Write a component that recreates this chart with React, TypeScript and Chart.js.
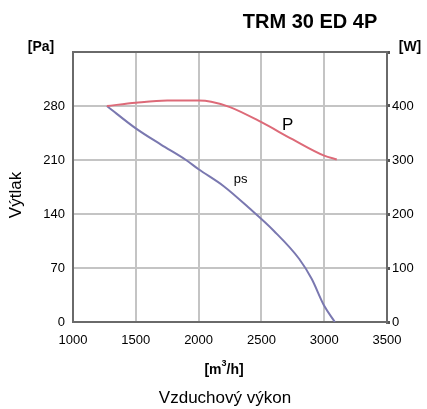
import React, { useEffect, useRef } from "react";
import { Chart, registerables } from "chart.js";

Chart.register(...registerables);

const flowPs = [1270, 1500, 1700, 1900, 2000, 2200, 2400, 2600, 2800, 2900, 3000, 3085];
const psValues = [280, 251, 230, 210, 198, 176, 148, 118, 82, 56, 21, 0];

const flowP = [1270, 1500, 1750, 2000, 2100, 2250, 2500, 2750, 3000, 3100];
const pValues = [400, 406, 410, 410, 408, 398, 370, 338, 308, 301];

const xTicks = [1000, 1500, 2000, 2500, 3000, 3500];
const leftTicks = [0, 70, 140, 210, 280, 350];
const rightTicks = [0, 100, 200, 300, 400, 500];

const FONT = "'Liberation Sans', Arial, sans-serif";

const textPlugin = {
  id: "texts",
  afterDraw(chart: any) {
    const c = chart.ctx;
    const xs = chart.scales.x;
    const ys = chart.scales.y;
    c.save();
    c.fillStyle = "#000";
    c.textBaseline = "middle";
    c.textAlign = "center";
    c.font = `bold 20px ${FONT}`;
    c.fillText("TRM 30 ED 4P", 310, 22);
    c.font = `bold 14px ${FONT}`;
    c.fillText("[Pa]", 41, 47);
    c.fillText("[W]", 410, 47);
    // m3/h
    const y0 = 370;
    const part1 = "[m";
    const part2 = "/h]";
    c.font = `bold 14px ${FONT}`;
    const w1 = c.measureText(part1).width;
    const w2 = c.measureText(part2).width;
    c.font = `bold 9px ${FONT}`;
    const w3 = c.measureText("3").width;
    const total = w1 + w2 + w3;
    const sx = 224 - total / 2;
    c.textAlign = "left";
    c.font = `bold 14px ${FONT}`;
    c.fillText(part1, sx, y0);
    c.font = `bold 9px ${FONT}`;
    c.fillText("3", sx + w1, y0 - 6);
    c.font = `bold 14px ${FONT}`;
    c.fillText(part2, sx + w1 + w3, y0);
    c.textAlign = "center";
    c.font = `17px ${FONT}`;
    c.fillText("Vzduchový výkon", 225, 398);
    c.save();
    c.translate(16, 195);
    c.rotate(-Math.PI / 2);
    c.font = `17px ${FONT}`;
    c.fillText("Výtlak", 0, 0);
    c.restore();
    c.font = `17px ${FONT}`;
    c.fillText("P", xs.getPixelForValue(2710), ys.getPixelForValue(255));
    c.font = `13px ${FONT}`;
    c.fillText("ps", xs.getPixelForValue(2335), ys.getPixelForValue(185));
    c.restore();
  },
};

export default function App() {
  const ref = useRef<HTMLCanvasElement>(null);
  useEffect(() => {
    if (!ref.current) return;
    const chart = new Chart(ref.current, {
      type: "line",
      data: {
        datasets: [
          {
            label: "P",
            data: flowP.map((x, i) => ({ x, y: pValues[i] })),
            yAxisID: "y2",
            borderColor: "#dd6a78",
            borderWidth: 2,
            pointRadius: 0,
            cubicInterpolationMode: "monotone",
          },
          {
            label: "ps",
            data: flowPs.map((x, i) => ({ x, y: psValues[i] })),
            yAxisID: "y",
            borderColor: "#7a78b0",
            borderWidth: 2,
            pointRadius: 0,
            cubicInterpolationMode: "monotone",
          },
        ],
      },
      options: {
        animation: false,
        responsive: false,
        maintainAspectRatio: false,
        layout: { padding: { top: 52, left: 0, right: 0, bottom: 0 } },
        plugins: { legend: { display: false }, tooltip: { enabled: false } },
        scales: {
          x: {
            type: "linear",
            min: 1000,
            max: 3500,
            afterBuildTicks: (s: any) => {
              s.ticks = xTicks.map((v) => ({ value: v }));
            },
            afterFit: (s: any) => {
              s.height = 87;
            },
            ticks: {
              font: { family: FONT, size: 13 },
              color: "#000",
              padding: 11,
              callback: (v: any) => String(v),
            },
            grid: { color: "#c4c4c4", lineWidth: 2, drawTicks: false },
            border: { color: "#6a6a6a", width: 2 },
          },
          y: {
            type: "linear",
            position: "left",
            min: 0,
            max: 350,
            afterBuildTicks: (s: any) => {
              s.ticks = leftTicks.map((v) => ({ value: v }));
            },
            afterFit: (s: any) => {
              s.width = 73;
            },
            ticks: {
              font: { family: FONT, size: 13 },
              color: "#000",
              padding: 8,
              callback: (v: any) => (v === 350 ? "" : String(v)),
            },
            grid: {
              color: (ctx: any) => (ctx.tick && ctx.tick.value === 350 ? "#6a6a6a" : "#c4c4c4"),
              lineWidth: 2,
              drawTicks: false,
            },
            border: { color: "#6a6a6a", width: 2 },
          },
          y2: {
            type: "linear",
            position: "right",
            min: 0,
            max: 500,
            afterBuildTicks: (s: any) => {
              s.ticks = rightTicks.map((v) => ({ value: v }));
            },
            afterFit: (s: any) => {
              s.width = 40;
            },
            ticks: {
              font: { family: FONT, size: 13 },
              color: "#000",
              padding: 2,
              callback: (v: any) => (v === 500 ? "" : String(v)),
            },
            grid: {
              drawOnChartArea: false,
              drawTicks: true,
              tickLength: 3,
              color: "#555",
              lineWidth: 3,
            },
            border: { color: "#6a6a6a", width: 2 },
          },
        },
      },
      plugins: [textPlugin],
    } as any);
    return () => chart.destroy();
  }, []);
  return (
    <div style={{ position: "absolute", left: 0, top: 0, width: 427, height: 409, background: "#fff" }}>
      <canvas ref={ref} width={427} height={409} style={{ display: "block" }} />
    </div>
  );
}
